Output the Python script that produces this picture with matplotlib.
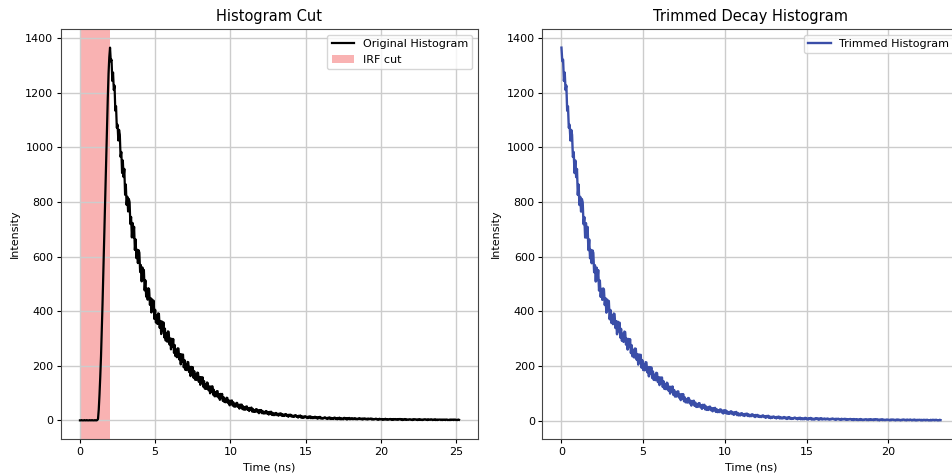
import numpy as np
import matplotlib
matplotlib.use("Agg")
import matplotlib.pyplot as plt

# Histogram counts, one bin every 0.05 ns starting at 0 ns
bin_width = 0.05
baseline_counts = [0, 0, 1, 0, 0, 0, 1, 0, 0, 1, 0, 0,
                   0, 1, 0, 0, 1, 0, 0, 0, 1, 0, 0, 1]
rise_counts = [5, 40, 95, 160, 235, 325, 425, 530,
               640, 750, 860, 970, 1080, 1180, 1270, 1330]
decay_counts = [
    1365, 1315, 1321, 1243, 1274, 1210, 1226, 1134, 1150, 1072,
    1083, 1025, 1064, 1046, 965, 983, 906, 952, 891, 921,
    826, 864, 789, 819, 765, 811, 799, 719, 745, 670,
    723, 670, 709, 624, 663, 594, 625, 576, 623, 614,
    543, 569, 509, 560, 514, 551, 476, 513, 453, 482,
    442, 484, 480, 423, 448, 395, 443, 403, 438, 371,
    405, 358, 385, 353, 392, 390, 339, 364, 316, 362,
    327, 359, 304, 336, 292, 318, 288, 326, 324, 278,
    300, 260, 299, 269, 298, 247, 276, 235, 259, 231,
    264, 263, 223, 243, 205, 242, 214, 241, 194, 221,
    185, 206, 184, 214, 213, 177, 196, 162, 196, 171,
    195, 156, 180, 149, 168, 148, 175, 174, 141, 159,
    130, 158, 137, 158, 123, 144, 116, 133, 115, 139,
    136, 110, 124, 99, 124, 106, 125, 94, 112, 88,
    103, 88, 107, 107, 84, 96, 75, 97, 81, 97,
    71, 85, 67, 79, 66, 83, 82, 63, 73, 55,
    72, 61, 73, 54, 66, 50, 60, 50, 64, 64,
    49, 57, 43, 58, 48, 58, 41, 52, 39, 48,
    39, 51, 51, 38, 45, 34, 46, 38, 47, 32,
    42, 31, 38, 31, 41, 41, 30, 37, 26, 38,
    30, 38, 26, 34, 25, 31, 25, 34, 34, 24,
    30, 21, 31, 24, 32, 20, 28, 19, 25, 19,
    27, 27, 19, 24, 17, 25, 20, 26, 17, 23,
    16, 21, 16, 23, 23, 16, 20, 13, 21, 16,
    21, 14, 18, 13, 17, 13, 19, 19, 13, 16,
    10, 17, 13, 18, 10, 15, 9, 14, 10, 15,
    15, 10, 13, 8, 14, 10, 15, 8, 13, 8,
    11, 8, 13, 13, 8, 11, 6, 12, 8, 13,
    7, 10, 6, 9, 7, 11, 11, 7, 9, 5, 10, 7, 11, 5, 9, 5, 8, 5, 10, 10,
    5, 8, 4, 9, 6, 10, 4, 8, 4, 7, 4, 9, 9, 5, 8, 3, 8, 5, 9, 4,
    7, 5, 8, 4, 7, 5, 8, 4, 6, 4, 7, 5, 8, 6, 4, 7, 3, 7, 5, 7,
    4, 6, 3, 7, 4, 6, 5, 7, 3, 6, 3, 5, 4, 6, 6, 3, 5, 2, 6, 4,
    5, 3, 5, 2, 4, 3, 6, 3, 4, 2, 4, 3, 5, 5, 2, 4, 2, 5, 3, 5,
    3, 4, 2, 5, 3, 5, 5, 2, 4, 1, 4, 3, 5, 2, 4, 2, 3, 2, 4, 4,
    2, 3, 1, 4, 2, 4, 4, 2, 3, 1, 4, 2, 4, 2, 3, 1, 3, 2, 4, 4,
    2, 3, 1, 4, 2, 3, 2, 4, 3, 1, 3, 2, 4, 1, 3, 1, 3, 2, 3, 3,
    1, 3, 1, 3, 2, 3, 1, 3, 3, 1, 2, 1, 3, 1, 3, 2, 3, 1, 3, 3,
    1, 2, 1, 3, 2,
]
counts = np.array(baseline_counts + rise_counts + decay_counts, dtype=float)
time_ns = np.round(np.arange(len(counts)) * bin_width, 2)

# IRF cut region (ns)
irf_start, irf_end = 0.0, 2.0

# Trimmed histogram: everything from the peak on, time shifted to zero
peak = int(np.argmax(counts))
trimmed_time = time_ns[peak:] - time_ns[peak]
trimmed_counts = counts[peak:]

plt.rcParams.update({
    'font.size': 8,
    'xtick.major.size': 3,
    'ytick.major.size': 3,
    'xtick.major.pad': 2.5,
    'ytick.major.pad': 2.5,
})

fig = plt.figure(figsize=(9.53, 4.73), dpi=100)
W, H = 953, 473
ax1 = fig.add_axes([61 / W, 1 - 439 / H, 417 / W, 410 / H])
ax2 = fig.add_axes([542.5 / W, 1 - 439 / H, 417 / W, 410 / H])

grid_kw = dict(color='#cccccc', linewidth=1.0)

# Left: original histogram with the IRF cut highlighted
ax1.plot(time_ns, counts, color='black', linewidth=1.6, label='Original Histogram')
ax1.axvspan(irf_start, irf_end, color='#f04040', alpha=0.4, linewidth=0, label='IRF cut')
ax1.set_title('Histogram Cut', fontsize=10.5)
ax1.set_xlabel('Time (ns)')
ax1.set_ylabel('Intensity')
ax1.set_yticks(np.arange(0, 1401, 200))
ax1.grid(True, **grid_kw)
ax1.legend(loc='upper right')

# Right: trimmed decay
ax2.plot(trimmed_time, trimmed_counts, color='#3a4ea8', linewidth=1.7, label='Trimmed Histogram')
ax2.set_title('Trimmed Decay Histogram', fontsize=10.5)
ax2.set_xlabel('Time (ns)')
ax2.set_ylabel('Intensity')
ax2.set_yticks(np.arange(0, 1401, 200))
ax2.set_xticks(np.arange(0, 21, 5))
ax2.grid(True, **grid_kw)
ax2.legend(loc='upper right')

for ax in (ax1, ax2):
    for spine in ax.spines.values():
        spine.set_color('#444444')

fig.savefig('out.png', dpi=100)
